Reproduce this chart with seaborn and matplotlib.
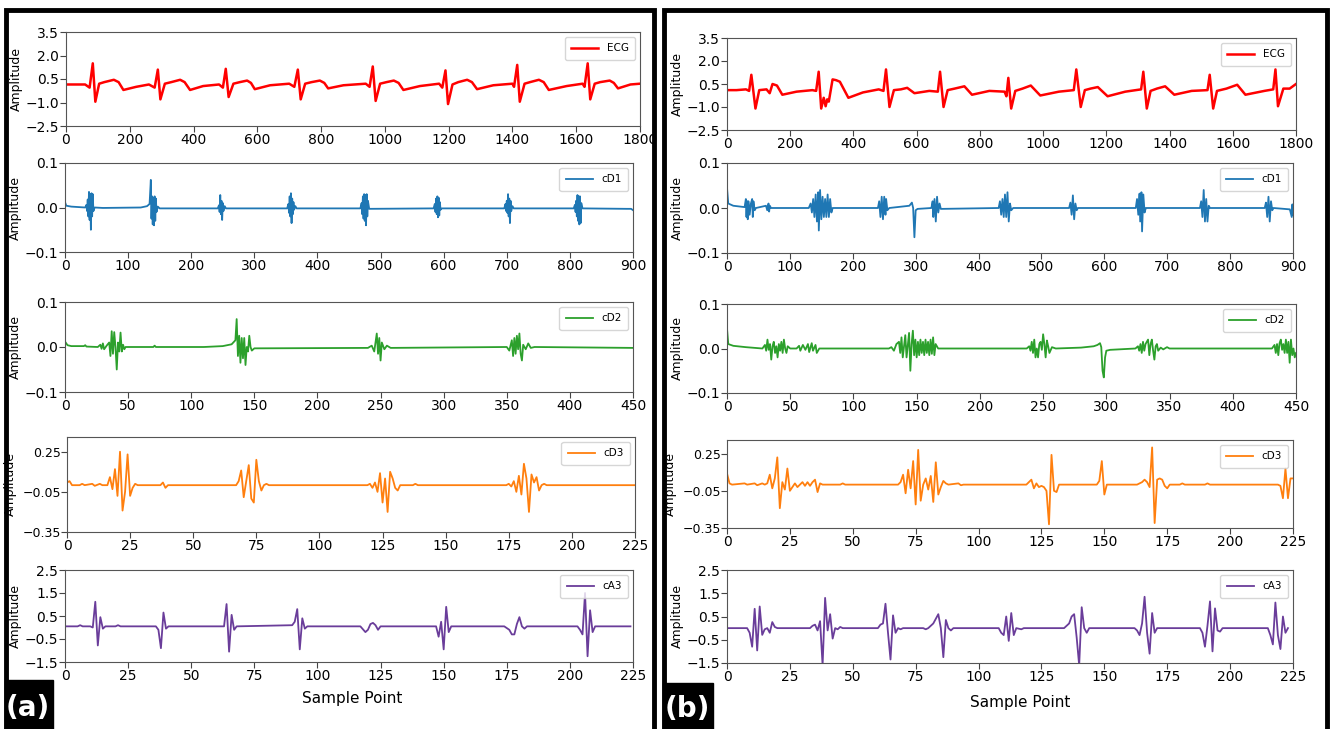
import matplotlib
matplotlib.use("Agg")
import matplotlib.pyplot as plt
import seaborn as sns
from matplotlib.patches import Rectangle

# ---- data: (sample, amplitude) vertices ----
ecg_a = [(0, 0.15), (60, 0.15), (74, -0.05), (84, 1.5), (92, -0.95), (104, 0.2), (120, 0.3), (150, 0.45),
         (165, 0.3), (180, -0.2), (220, 0.0), (260, 0.15), (278, -0.05), (288, 1.1), (296, -0.8), (310, 0.2),
         (330, 0.3), (358, 0.45), (372, 0.3), (389, -0.2), (430, 0.05), (480, 0.15), (492, -0.05), (501, 1.15),
         (510, -0.65), (525, 0.2), (545, 0.3), (568, 0.4), (580, 0.25), (592, -0.15), (640, 0.1), (700, 0.2),
         (716, 0.0), (727, 1.1), (736, -0.8), (750, 0.2), (770, 0.3), (796, 0.4), (810, 0.25), (822, -0.1),
         (870, 0.1), (940, 0.2), (952, 0.0), (962, 1.3), (971, -0.9), (985, 0.2), (1005, 0.3), (1028, 0.4),
         (1043, 0.25), (1058, -0.2), (1110, 0.05), (1170, 0.2), (1180, -0.05), (1190, 1.05), (1198, -1.1),
         (1212, 0.15), (1230, 0.3), (1258, 0.45), (1273, 0.3), (1289, -0.15), (1340, 0.1), (1400, 0.2),
         (1405, 0.0), (1415, 1.4), (1423, -0.95), (1438, 0.2), (1455, 0.3), (1483, 0.45), (1498, 0.3),
         (1514, -0.2), (1570, 0.05), (1620, 0.2), (1626, 0.0), (1636, 1.5), (1644, -0.8), (1658, 0.2),
         (1675, 0.3), (1705, 0.4), (1718, 0.25), (1731, -0.1), (1770, 0.15), (1800, 0.2)]

cd1_a = [(0, 0.012), (2, 0.004), (10, 0.002), (32, 0.0), (34, 0.006), (35, -0.008), (36, 0.018), (37, -0.02),
         (38, 0.035), (39, -0.028), (40, 0.03), (41, -0.05), (42, 0.032), (43, -0.02), (44, 0.03), (45, -0.008),
         (47, 0.0), (60, -0.001), (120, 0.0), (130, 0.003), (134, 0.008), (136, 0.062), (137, -0.025),
         (138, 0.025), (139, -0.038), (140, 0.022), (141, -0.04), (142, 0.025), (143, -0.03), (144, 0.02),
         (145, -0.01), (147, 0.002), (150, -0.002), (242, -0.002), (244, 0.005), (245, -0.01), (246, 0.028),
         (247, -0.015), (248, 0.015), (249, -0.028), (250, 0.01), (251, -0.008), (253, 0.003), (255, -0.002),
         (352, -0.002), (354, 0.008), (355, -0.012), (356, 0.025), (357, -0.02), (358, 0.032), (359, -0.035),
         (360, 0.02), (361, -0.015), (362, 0.012), (363, -0.005), (365, 0.003), (367, -0.002), (468, -0.002),
         (470, 0.01), (471, -0.015), (472, 0.025), (473, -0.025), (474, 0.03), (475, -0.03), (476, 0.028),
         (477, -0.04), (478, 0.03), (479, -0.02), (480, 0.015), (482, -0.003), (584, -0.002), (586, 0.008),
         (587, -0.01), (588, 0.02), (589, -0.015), (590, 0.025), (591, -0.022), (592, 0.022), (593, -0.018),
         (594, 0.012), (595, -0.005), (597, -0.002), (696, -0.002), (698, 0.008), (699, -0.008), (700, 0.015),
         (701, -0.012), (702, 0.03), (703, -0.02), (704, 0.02), (705, -0.035), (706, 0.015), (707, -0.008),
         (709, 0.003), (711, -0.002), (806, -0.002), (808, 0.006), (809, -0.01), (810, 0.015), (811, -0.02),
         (812, 0.028), (813, -0.03), (814, 0.025), (815, -0.038), (816, 0.025), (817, -0.035), (818, 0.01),
         (820, -0.002), (890, -0.003), (897, -0.003), (900, -0.006)]

cd2_a = [(0, 0.012), (2, 0.004), (5, 0.002), (15, 0.002), (16, 0.004), (17, 0.001), (26, 0.0), (28, 0.005),
         (29, -0.004), (30, 0.008), (31, -0.005), (33, 0.003), (35, 0.01), (36, -0.02), (37, 0.035), (38, -0.015),
         (39, 0.033), (40, 0.0), (41, -0.05), (42, 0.01), (43, -0.01), (44, 0.032), (45, -0.01), (46, 0.005),
         (47, -0.005), (48, 0.0), (70, 0.0), (71, 0.003), (72, 0.0), (110, 0.0), (125, 0.002), (132, 0.006),
         (135, 0.015), (136, 0.062), (137, -0.02), (138, 0.025), (139, -0.035), (140, 0.02), (141, -0.025),
         (142, 0.02), (143, -0.04), (144, 0.0), (145, -0.01), (146, 0.025), (147, 0.0), (148, -0.008),
         (150, -0.003), (240, -0.002), (243, 0.003), (245, -0.01), (247, 0.03), (248, -0.015), (249, 0.02),
         (250, -0.03), (251, 0.01), (253, -0.005), (255, 0.003), (258, -0.002), (350, 0.0), (352, -0.008),
         (354, 0.015), (355, -0.02), (356, 0.02), (357, -0.015), (358, 0.025), (359, -0.005), (360, 0.03),
         (361, -0.015), (362, -0.03), (363, 0.005), (365, -0.005), (367, 0.008), (369, -0.002), (372, 0.0),
         (450, -0.002)]

cd3_a = [(0, 0.02), (1, 0.03), (2, 0.0), (5, 0.0), (6, 0.01), (7, 0.0), (10, 0.01), (11, -0.005), (13, 0.01),
         (14, 0.0), (16, 0.0), (17, 0.06), (18, -0.03), (19, 0.12), (20, -0.08), (21, 0.25), (22, -0.19),
         (23, -0.05), (24, 0.23), (25, -0.08), (26, -0.02), (27, 0.01), (28, 0.0), (37, 0.0), (38, 0.02),
         (39, -0.02), (40, 0.0), (67, 0.0), (68, 0.03), (69, 0.11), (70, -0.09), (71, 0.03), (72, 0.15),
         (73, -0.1), (74, -0.13), (75, 0.19), (76, 0.03), (77, -0.04), (78, 0.0), (79, 0.01), (80, 0.0),
         (119, 0.0), (120, 0.01), (121, -0.02), (122, 0.02), (123, -0.05), (124, 0.09), (125, -0.13), (126, 0.05),
         (127, -0.2), (128, 0.1), (129, 0.05), (130, -0.02), (131, -0.04), (132, 0.0), (137, 0.0), (138, 0.01),
         (139, 0.0), (174, 0.0), (175, 0.01), (176, -0.01), (177, 0.03), (178, -0.05), (179, 0.07), (180, -0.07),
         (181, 0.16), (182, 0.05), (183, -0.2), (184, 0.08), (185, 0.02), (186, 0.06), (187, -0.04), (188, 0.0),
         (189, 0.01), (190, 0.0), (225, 0.0)]

ca3_a = [(0, 0.05), (5, 0.05), (6, 0.1), (7, 0.05), (10, 0.05), (11, 0.0), (12, 1.12), (13, -0.78), (14, 0.45),
         (15, -0.05), (16, 0.05), (20, 0.05), (21, 0.1), (22, 0.05), (36, 0.05), (37, -0.1), (38, -0.9),
         (39, 0.65), (40, -0.05), (41, 0.05), (63, 0.05), (64, 1.02), (65, -1.05), (66, 0.55), (67, -0.1),
         (68, 0.05), (90, 0.1), (91, 0.25), (92, 0.8), (93, -0.95), (94, 0.4), (95, -0.05), (96, 0.05),
         (117, 0.05), (119, -0.2), (120, -0.1), (121, 0.15), (122, 0.2), (123, 0.1), (124, -0.1), (125, 0.05),
         (147, 0.05), (148, -0.4), (149, 0.25), (150, -0.95), (151, 0.9), (152, -0.2), (153, 0.05), (174, 0.05),
         (176, -0.1), (177, -0.3), (178, -0.3), (179, 0.15), (180, 0.45), (181, 0.05), (182, -0.05), (183, 0.05),
         (203, 0.05), (204, -0.1), (205, -0.3), (206, 1.5), (207, -1.25), (208, 0.75), (209, -0.2), (210, 0.05),
         (224, 0.05)]

ecg_b = [(0, 0.1), (30, 0.1), (60, 0.15), (70, 0.05), (77, 1.1), (90, -1.1), (102, 0.1), (125, 0.15),
         (135, -0.1), (144, 0.5), (158, 0.4), (175, -0.2), (220, 0.0), (270, 0.1), (282, 0.05), (290, 1.3),
         (298, -1.1), (306, -0.4), (312, -0.95), (317, -0.5), (322, -0.65), (334, 0.8), (345, 0.75), (357, 0.65),
         (384, -0.4), (430, -0.05), (480, 0.15), (495, 0.05), (503, 1.45), (514, -1.0), (528, 0.1), (550, 0.15),
         (570, 0.25), (593, -0.1), (640, 0.05), (667, 0.0), (674, 1.3), (685, -1.0), (698, 0.1), (720, 0.2),
         (751, 0.35), (775, -0.2), (830, 0.05), (878, 0.0), (884, -0.3), (890, 0.9), (899, -1.1), (912, 0.05),
         (935, 0.2), (961, 0.4), (991, -0.25), (1050, 0.0), (1097, 0.1), (1105, 1.45), (1119, -1.0),
         (1132, 0.1), (1150, 0.2), (1173, 0.3), (1204, -0.3), (1260, 0.0), (1310, 0.15), (1317, 1.3),
         (1328, -1.1), (1340, 0.05), (1360, 0.2), (1386, 0.35), (1415, -0.2), (1470, 0.05), (1520, 0.1),
         (1527, 1.1), (1538, -1.1), (1550, 0.05), (1580, 0.2), (1614, 0.45), (1640, -0.2), (1700, 0.05),
         (1728, 0.15), (1735, 1.45), (1743, -0.95), (1760, 0.2), (1780, 0.2), (1800, 0.5)]

cd1_b = [(0, 0.045), (2, 0.01), (10, 0.005), (28, 0.002), (30, 0.02), (31, -0.02), (32, 0.015), (33, -0.025),
         (34, 0.015), (36, -0.015), (38, 0.01), (40, 0.02), (41, -0.02), (42, 0.015), (44, -0.005), (46, 0.0),
         (62, 0.005), (64, -0.005), (66, 0.01), (67, -0.008), (68, 0.005), (70, 0.0), (130, 0.0), (133, 0.01),
         (135, -0.01), (137, 0.02), (139, -0.02), (141, 0.03), (143, -0.03), (145, 0.035), (146, -0.05),
         (148, 0.04), (150, -0.025), (152, 0.025), (154, -0.02), (156, 0.02), (158, -0.02), (160, 0.03),
         (162, -0.02), (164, 0.02), (166, -0.01), (168, 0.0), (240, 0.0), (242, 0.015), (244, -0.02),
         (246, 0.025), (248, -0.025), (250, 0.025), (252, -0.015), (253, 0.02), (255, -0.005), (258, 0.0),
         (290, 0.005), (294, 0.012), (296, 0.0), (298, -0.065), (300, -0.005), (303, -0.002), (325, 0.0),
         (327, 0.015), (328, -0.02), (330, 0.02), (332, -0.03), (334, 0.025), (336, -0.01), (338, 0.01),
         (340, -0.002), (432, 0.0), (434, 0.015), (436, -0.015), (438, 0.02), (440, -0.02), (442, 0.03),
         (444, -0.02), (446, 0.035), (448, -0.03), (450, 0.01), (452, -0.005), (455, 0.0), (544, 0.0),
         (546, 0.012), (548, -0.015), (550, 0.028), (552, -0.025), (554, 0.01), (556, -0.005), (558, 0.0),
         (650, 0.0), (652, 0.02), (654, -0.015), (656, 0.032), (657, -0.03), (659, 0.035), (660, -0.052),
         (662, 0.03), (664, -0.01), (666, 0.0), (752, 0.0), (754, 0.015), (756, -0.02), (758, 0.04),
         (760, -0.03), (762, 0.02), (764, -0.03), (766, 0.005), (768, 0.0), (855, 0.0), (857, 0.012),
         (859, -0.02), (861, 0.025), (863, -0.03), (865, 0.015), (867, -0.005), (869, 0.0), (895, -0.003),
         (898, -0.02), (899, 0.008), (900, -0.015)]

cd2_b = [(0, 0.045), (1, 0.01), (5, 0.006), (15, 0.003), (28, 0.0), (30, 0.008), (31, -0.005), (32, 0.02),
         (33, -0.003), (34, 0.01), (35, -0.025), (36, 0.005), (37, 0.015), (38, -0.01), (39, 0.005), (40, -0.02),
         (41, 0.01), (42, -0.005), (43, 0.015), (44, -0.01), (45, 0.02), (46, 0.0), (47, -0.01), (48, 0.005),
         (50, 0.0), (55, 0.0), (57, 0.006), (58, -0.005), (60, 0.008), (62, -0.003), (64, 0.01), (65, -0.008),
         (67, 0.012), (68, -0.005), (70, 0.008), (71, -0.01), (73, 0.0), (128, 0.0), (130, 0.003), (132, -0.005),
         (134, 0.01), (136, 0.015), (137, -0.01), (138, 0.025), (139, -0.02), (141, 0.03), (142, -0.02),
         (144, 0.035), (145, -0.05), (146, 0.01), (147, 0.04), (148, -0.015), (149, 0.02), (150, -0.02),
         (151, 0.015), (152, -0.015), (153, 0.02), (154, -0.01), (155, 0.015), (156, -0.015), (157, 0.02),
         (158, -0.01), (159, 0.015), (160, -0.015), (161, 0.02), (162, -0.012), (163, 0.025), (164, -0.015),
         (165, 0.01), (167, 0.0), (237, 0.0), (239, 0.005), (240, -0.005), (241, 0.015), (242, -0.01),
         (243, 0.02), (244, -0.02), (245, 0.0), (246, -0.02), (247, 0.01), (248, 0.015), (249, -0.003),
         (250, 0.032), (251, 0.01), (252, -0.02), (253, 0.018), (254, 0.005), (255, -0.01), (257, 0.003),
         (260, 0.0), (280, 0.002), (290, 0.005), (293, 0.008), (295, 0.012), (296, 0.003), (297, -0.05),
         (298, -0.065), (299, -0.02), (300, -0.005), (303, -0.003), (323, 0.0), (325, 0.005), (326, -0.005),
         (327, 0.01), (328, -0.01), (329, 0.015), (330, -0.005), (331, 0.01), (333, 0.02), (334, -0.015),
         (335, 0.01), (336, 0.02), (337, -0.005), (338, -0.025), (339, 0.005), (340, 0.01), (341, -0.005),
         (343, 0.002), (345, -0.002), (348, 0.003), (350, 0.0), (431, 0.0), (433, 0.008), (434, -0.01),
         (435, 0.01), (436, -0.015), (437, 0.012), (438, 0.02), (439, -0.003), (440, 0.01), (441, -0.01),
         (442, 0.02), (443, -0.01), (444, 0.015), (445, -0.032), (446, 0.02), (447, -0.015), (448, 0.0),
         (449, -0.02), (450, -0.01)]

cd3_b = [(0, 0.09), (1, 0.01), (2, 0.0), (7, 0.01), (8, 0.0), (11, 0.01), (12, -0.005), (14, 0.01), (15, 0.0),
         (16, 0.01), (17, 0.08), (18, -0.03), (19, 0.05), (20, 0.22), (21, -0.19), (22, 0.02), (23, -0.04),
         (24, 0.13), (25, -0.05), (26, -0.02), (27, 0.01), (28, -0.02), (29, 0.0), (30, 0.02), (31, -0.01),
         (32, 0.02), (33, -0.01), (34, 0.02), (35, 0.04), (36, -0.06), (37, 0.01), (38, 0.0), (45, 0.0),
         (46, 0.01), (47, 0.0), (68, 0.0), (69, 0.02), (70, 0.08), (71, -0.07), (72, 0.12), (73, -0.03),
         (74, 0.19), (75, -0.16), (76, 0.28), (77, -0.13), (78, 0.0), (79, 0.05), (80, -0.04), (81, 0.07),
         (82, -0.14), (83, 0.18), (84, -0.08), (85, -0.02), (86, 0.03), (87, 0.01), (88, 0.0), (92, 0.01),
         (93, -0.005), (94, 0.0), (119, 0.0), (120, 0.02), (121, 0.04), (122, -0.03), (123, 0.01),
         (124, -0.02), (125, -0.01), (126, -0.02), (127, -0.05), (128, -0.32), (129, 0.24), (130, -0.05),
         (131, -0.06), (132, 0.0), (147, 0.0), (148, 0.03), (149, 0.19), (150, -0.08), (151, 0.0), (152, 0.0),
         (163, 0.0), (164, 0.01), (165, 0.02), (166, 0.04), (167, 0.02), (168, -0.02), (169, 0.3), (170, -0.31),
         (171, 0.04), (172, 0.05), (173, 0.04), (174, -0.01), (175, -0.03), (176, 0.0), (180, 0.0), (181, 0.01),
         (182, 0.0), (190, 0.0), (191, 0.01), (192, 0.0), (219, 0.0), (220, -0.01), (221, -0.11), (222, 0.13),
         (223, -0.11), (224, 0.05), (225, 0.05)]

ca3_b = [(0, 0.0), (8, 0.0), (9, -0.2), (10, -0.8), (11, 0.83), (12, -0.96), (13, 0.93), (14, -0.29),
         (15, -0.05), (16, 0.0), (17, -0.2), (18, 0.26), (19, 0.05), (20, 0.0), (33, 0.0), (34, 0.1),
         (35, 0.15), (36, -0.1), (37, 0.3), (38, -1.6), (39, 1.3), (40, -0.1), (41, 0.6), (42, -0.45),
         (43, 0.0), (44, -0.05), (45, 0.05), (46, 0.0), (60, 0.0), (61, 0.15), (62, 0.2), (63, 1.05),
         (64, -0.2), (65, -1.35), (66, 0.55), (67, -0.2), (68, 0.0), (69, -0.05), (70, 0.0), (78, 0.0),
         (79, -0.05), (80, 0.0), (82, 0.2), (84, 0.6), (85, 0.0), (86, -1.25), (87, 0.35), (88, 0.0),
         (89, -0.1), (90, 0.0), (108, 0.0), (109, -0.2), (110, -0.3), (111, 0.5), (112, -0.55), (113, 0.65),
         (114, -0.3), (115, 0.0), (117, -0.05), (118, 0.0), (134, 0.0), (135, 0.1), (136, 0.2), (137, 0.5),
         (138, 0.6), (139, -0.4), (140, -1.6), (141, 0.9), (142, 0.0), (143, -0.2), (144, 0.0), (162, 0.0),
         (163, -0.1), (164, -0.3), (165, 0.2), (166, 1.35), (167, -0.2), (168, -1.1), (169, 0.65), (170, -0.2),
         (171, 0.0), (188, 0.0), (189, -0.2), (190, -0.8), (191, 0.1), (192, 1.15), (193, -1.0), (194, 0.85),
         (195, -0.1), (196, -0.15), (197, 0.0), (215, 0.0), (216, -0.3), (217, -0.7), (218, 1.1), (219, -0.3),
         (220, -0.9), (221, 0.5), (222, -0.2), (223, 0.0)]

names = ["ECG", "cD1", "cD2", "cD3", "cA3"]
colors = ["#ff0000", "#1f77b4", "#2ca02c", "#ff7f0e", "#6a3d9a"]
x_max = [1800, 900, 450, 225, 225]
x_step = [200, 100, 50, 25, 25]
y_ticks = [[-2.5, -1.0, 0.5, 2.0, 3.5], [-0.1, 0.0, 0.1], [-0.1, 0.0, 0.1],
           [-0.35, -0.05, 0.25], [-1.5, -0.5, 0.5, 1.5, 2.5]]
y_ticklabels = [["\u22122.5", "\u22121.0", "0.5", "2.0", "3.5"],
                ["\u22120.1", "0.0", "0.1"], ["\u22120.1", "0.0", "0.1"],
                ["\u22120.35", "\u22120.05", "0.25"],
                ["\u22121.5", "\u22120.5", "0.5", "1.5", "2.5"]]
y_lims = [(-2.5, 3.5), (-0.1, 0.1), (-0.1, 0.1), (-0.35, 0.36), (-1.5, 2.5)]

panels = {"a": [ecg_a, cd1_a, cd2_a, cd3_a, ca3_a],
          "b": [ecg_b, cd1_b, cd2_b, cd3_b, ca3_b]}

W, H = 1330, 729
fig = plt.figure(figsize=(W / 100, H / 100), dpi=100)

# axes boxes in pixels: left, right, top, bottom
boxes = {"a": [(66, 640, 32, 126), (65, 633, 163, 252), (65, 633, 302, 392), (67, 635, 437, 532), (65, 633, 570, 662)],
         "b": [(727, 1296, 38, 130), (727, 1293, 163, 253), (727, 1296, 304, 393), (727, 1293, 440, 528), (727, 1293, 570, 663)]}


def px_rect(l, r, t, b):
    return [l / W, 1 - b / H, (r - l) / W, (b - t) / H]


for key, traces in panels.items():
    for i, trace in enumerate(traces):
        l, r, t, b = boxes[key][i]
        ax = fig.add_axes(px_rect(l, r, t, b))
        xs = [p[0] for p in trace]
        ys = [p[1] for p in trace]
        sns.lineplot(x=xs, y=ys, ax=ax, color=colors[i], lw=1.8 if i == 0 else 1.3,
                     label=names[i], sort=False, estimator=None)
        ax.set_xlim(0, x_max[i])
        ax.set_xticks(range(0, x_max[i] + 1, x_step[i]))
        ax.set_ylim(*y_lims[i])
        ax.set_yticks(y_ticks[i])
        ax.set_yticklabels(y_ticklabels[i])
        ax.tick_params(labelsize=10, length=4, pad=1, color="#444444")
        if i == 3:
            ax.tick_params(axis="y", labelsize=9, pad=0.5)
        ax.set_ylabel("Amplitude", fontsize=9)
        ax.yaxis.set_label_coords((-50 if i == 3 else -43) / (r - l), 0.5)
        for s in ax.spines.values():
            s.set_color("#555555")
        ax.legend(loc="upper right", fontsize=7.5, handlelength=2.6, borderpad=0.6)

# x labels
fig.text(352 / W, 1 - 698 / H, "Sample Point", ha="center", va="center", fontsize=11)
fig.text(1020 / W, 1 - 702 / H, "Sample Point", ha="center", va="center", fontsize=11)

# panel frames
fig.patches.append(Rectangle((6 / W, -0.05), 648 / W, 1.05 - 10 / H, transform=fig.transFigure,
                             fill=False, ec="black", lw=3.5, zorder=-1))
fig.patches.append(Rectangle((664 / W, -0.05), 663 / W, 1.05 - 10 / H, transform=fig.transFigure,
                             fill=False, ec="black", lw=3.5, zorder=-1))

# panel tags
fig.patches.append(Rectangle((5 / W, 0), 48 / W, 49 / H, transform=fig.transFigure, color="black"))
fig.patches.append(Rectangle((663 / W, 0), 50 / W, 46 / H, transform=fig.transFigure, color="black"))
fig.text(28 / W, 1 - 708 / H, "(a)", color="white", fontsize=20, fontweight="bold", ha="center", va="center")
fig.text(687 / W, 1 - 709 / H, "(b)", color="white", fontsize=20, fontweight="bold", ha="center", va="center")

fig.savefig("out.png", dpi=100)
